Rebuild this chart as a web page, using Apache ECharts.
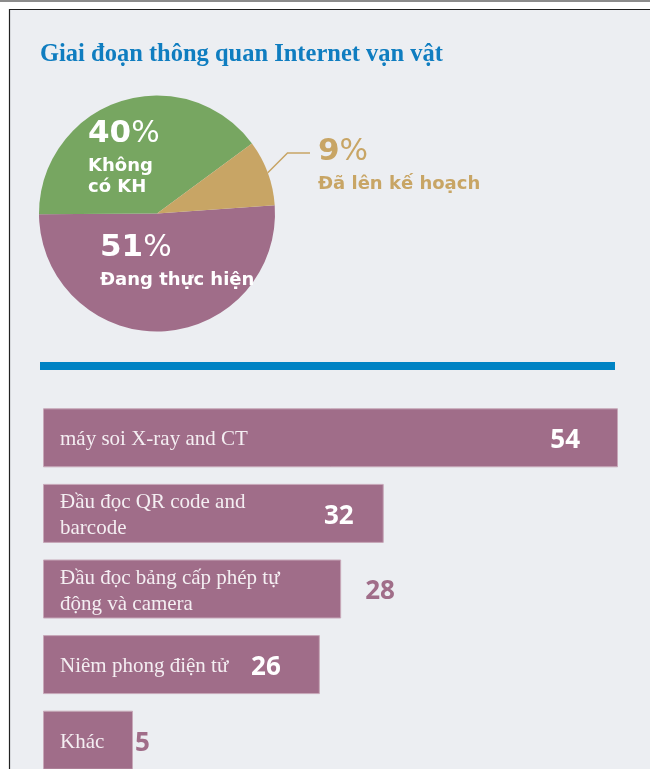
<!DOCTYPE html>
<html><head><meta charset="utf-8">
<script src="https://cdn.jsdelivr.net/npm/echarts@6/dist/echarts.min.js"></script>
<style>html,body{margin:0;padding:0;background:#fff;overflow:hidden}#c{width:650px;height:769px}</style>
</head><body><div id="c"></div>
<script>
// ---- data ----
const titleText = 'Giai đoạn thông quan Internet vạn vật';
const pieNames = ['Đang thực hiện', 'Không\ncó KH', 'Đã lên kế hoạch'];
const pieValues = [51, 40, 9];
const barCategories = ['máy soi X-ray and CT', 'Đầu đọc QR code and\nbarcode', 'Đầu đọc bảng cấp phép tự\nđộng và camera', 'Niêm phong điện tử', 'Khác'];
const barValues = [54, 32, 28, 26, 5];

// ---- styling ----
const PURPLE = '#A06D89', GREEN = '#77A661', GOLD = '#C8A565';
const pieColors = [PURPLE, GREEN, GOLD];
const pieLabelPos = [[100, 226], [88, 112], [318, 130]];
const GOLD_LINE_Y = 153;
const sans = 'DejaVu Sans';
function pieRich(color) {
  return {
    n: {fontFamily: sans, fontWeight: 'bold', fontSize: 31, lineHeight: 44, color: color},
    pc: {fontFamily: sans, fontWeight: 'normal', fontSize: 30, lineHeight: 44, color: color},
    t: {fontFamily: sans, fontWeight: 'bold', fontSize: 18, lineHeight: 21, color: color}
  };
}
const pieLabels = [
  {position: 'inside', color: '#fff', rich: pieRich('#fff')},
  {position: 'inside', color: '#fff', rich: pieRich('#fff')},
  {position: 'outside', color: GOLD, rich: pieRich(GOLD)}
];
// value label placement per bar
const valueLabelStyles = [
  {position: 'insideRight', distance: 38, color: '#fff'},
  {position: 'insideRight', distance: 30, color: '#fff'},
  {position: 'right', distance: 24, color: PURPLE},
  {position: 'insideRight', distance: 39, color: '#fff'},
  {position: 'right', distance: 2, color: PURPLE}
];

const chart = echarts.init(document.getElementById('c'), null, {renderer: 'canvas'});
chart.setOption({
  animation: false,
  backgroundColor: '#fff',
  title: {
    text: titleText, left: 40, top: 42, padding: 0,
    textStyle: {fontFamily: 'Liberation Serif', fontWeight: 'bold', fontSize: 24.5, color: '#0F7DC0'}
  },
  graphic: [
    {type: 'rect', z: -10, shape: {x: 0, y: 0, width: 650, height: 2}, style: {fill: '#8c8c8c'}},
    {type: 'rect', z: -10, shape: {x: 9.5, y: 9.5, width: 700, height: 800}, style: {fill: '#ECEEF2', stroke: '#222', lineWidth: 1.2}},
    {type: 'rect', z: -5, shape: {x: 40, y: 362, width: 575, height: 8}, style: {fill: '#0083C4'}}
  ],
  grid: {left: 43, top: 400, width: 575, height: 378, outerBoundsMode: 'none', containLabel: false},
  xAxis: {type: 'value', min: 0, max: 54, show: false},
  yAxis: {type: 'category', data: barCategories, inverse: true, show: false},
  series: [
    {
      type: 'pie',
      center: [157, 213.5],
      radius: 118,
      startAngle: 4,
      clockwise: true,
      silent: true,
      labelLine: {show: false},
      labelLayout: function (p) {
        const pos = pieLabelPos[p.dataIndex];
        const out = {x: pos[0], y: pos[1], align: 'left', verticalAlign: 'top'};
        if (p.dataIndex === 2 && p.labelLinePoints) {
          const s = p.labelLinePoints[0];
          out.labelLinePoints = [[s[0], s[1]], [s[0] + (s[1] - GOLD_LINE_Y), GOLD_LINE_Y], [pos[0] - 8, GOLD_LINE_Y]];
        }
        return out;
      },
      data: pieValues.map((v, i) => ({
        value: v, name: pieNames[i],
        itemStyle: {color: pieColors[i]},
        label: Object.assign({show: true, formatter: '{n|{c}}{pc|%}\n{t|{b}}'}, pieLabels[i]),
        labelLine: i === 2 ? {show: true, length: 20, length2: 24, smooth: false, lineStyle: {color: GOLD, width: 1.5}} : {show: false}
      }))
    },
    {
      type: 'bar',
      data: barValues,
      barWidth: 59,
      barMinHeight: 90,
      silent: true,
      itemStyle: {color: PURPLE, borderColor: '#C7A8B9', borderWidth: 1},
      label: {
        show: true, position: 'insideLeft', distance: 17, offset: [0, 2], formatter: '{b}',
        fontFamily: 'Liberation Serif', fontSize: 21, lineHeight: 26, color: '#F4EEF2'
      }
    },
    {
      type: 'bar',
      data: barValues.map((v, i) => ({
        value: v,
        label: Object.assign({show: true, formatter: '{c}', offset: [0, 3], fontFamily: 'Open Sans', fontWeight: 'bold', fontSize: 26}, valueLabelStyles[i])
      })),
      barWidth: 59,
      barGap: '-100%',
      barMinHeight: 90,
      silent: true,
      itemStyle: {color: 'rgba(0,0,0,0)'}
    }
  ]
});
</script></body></html>
